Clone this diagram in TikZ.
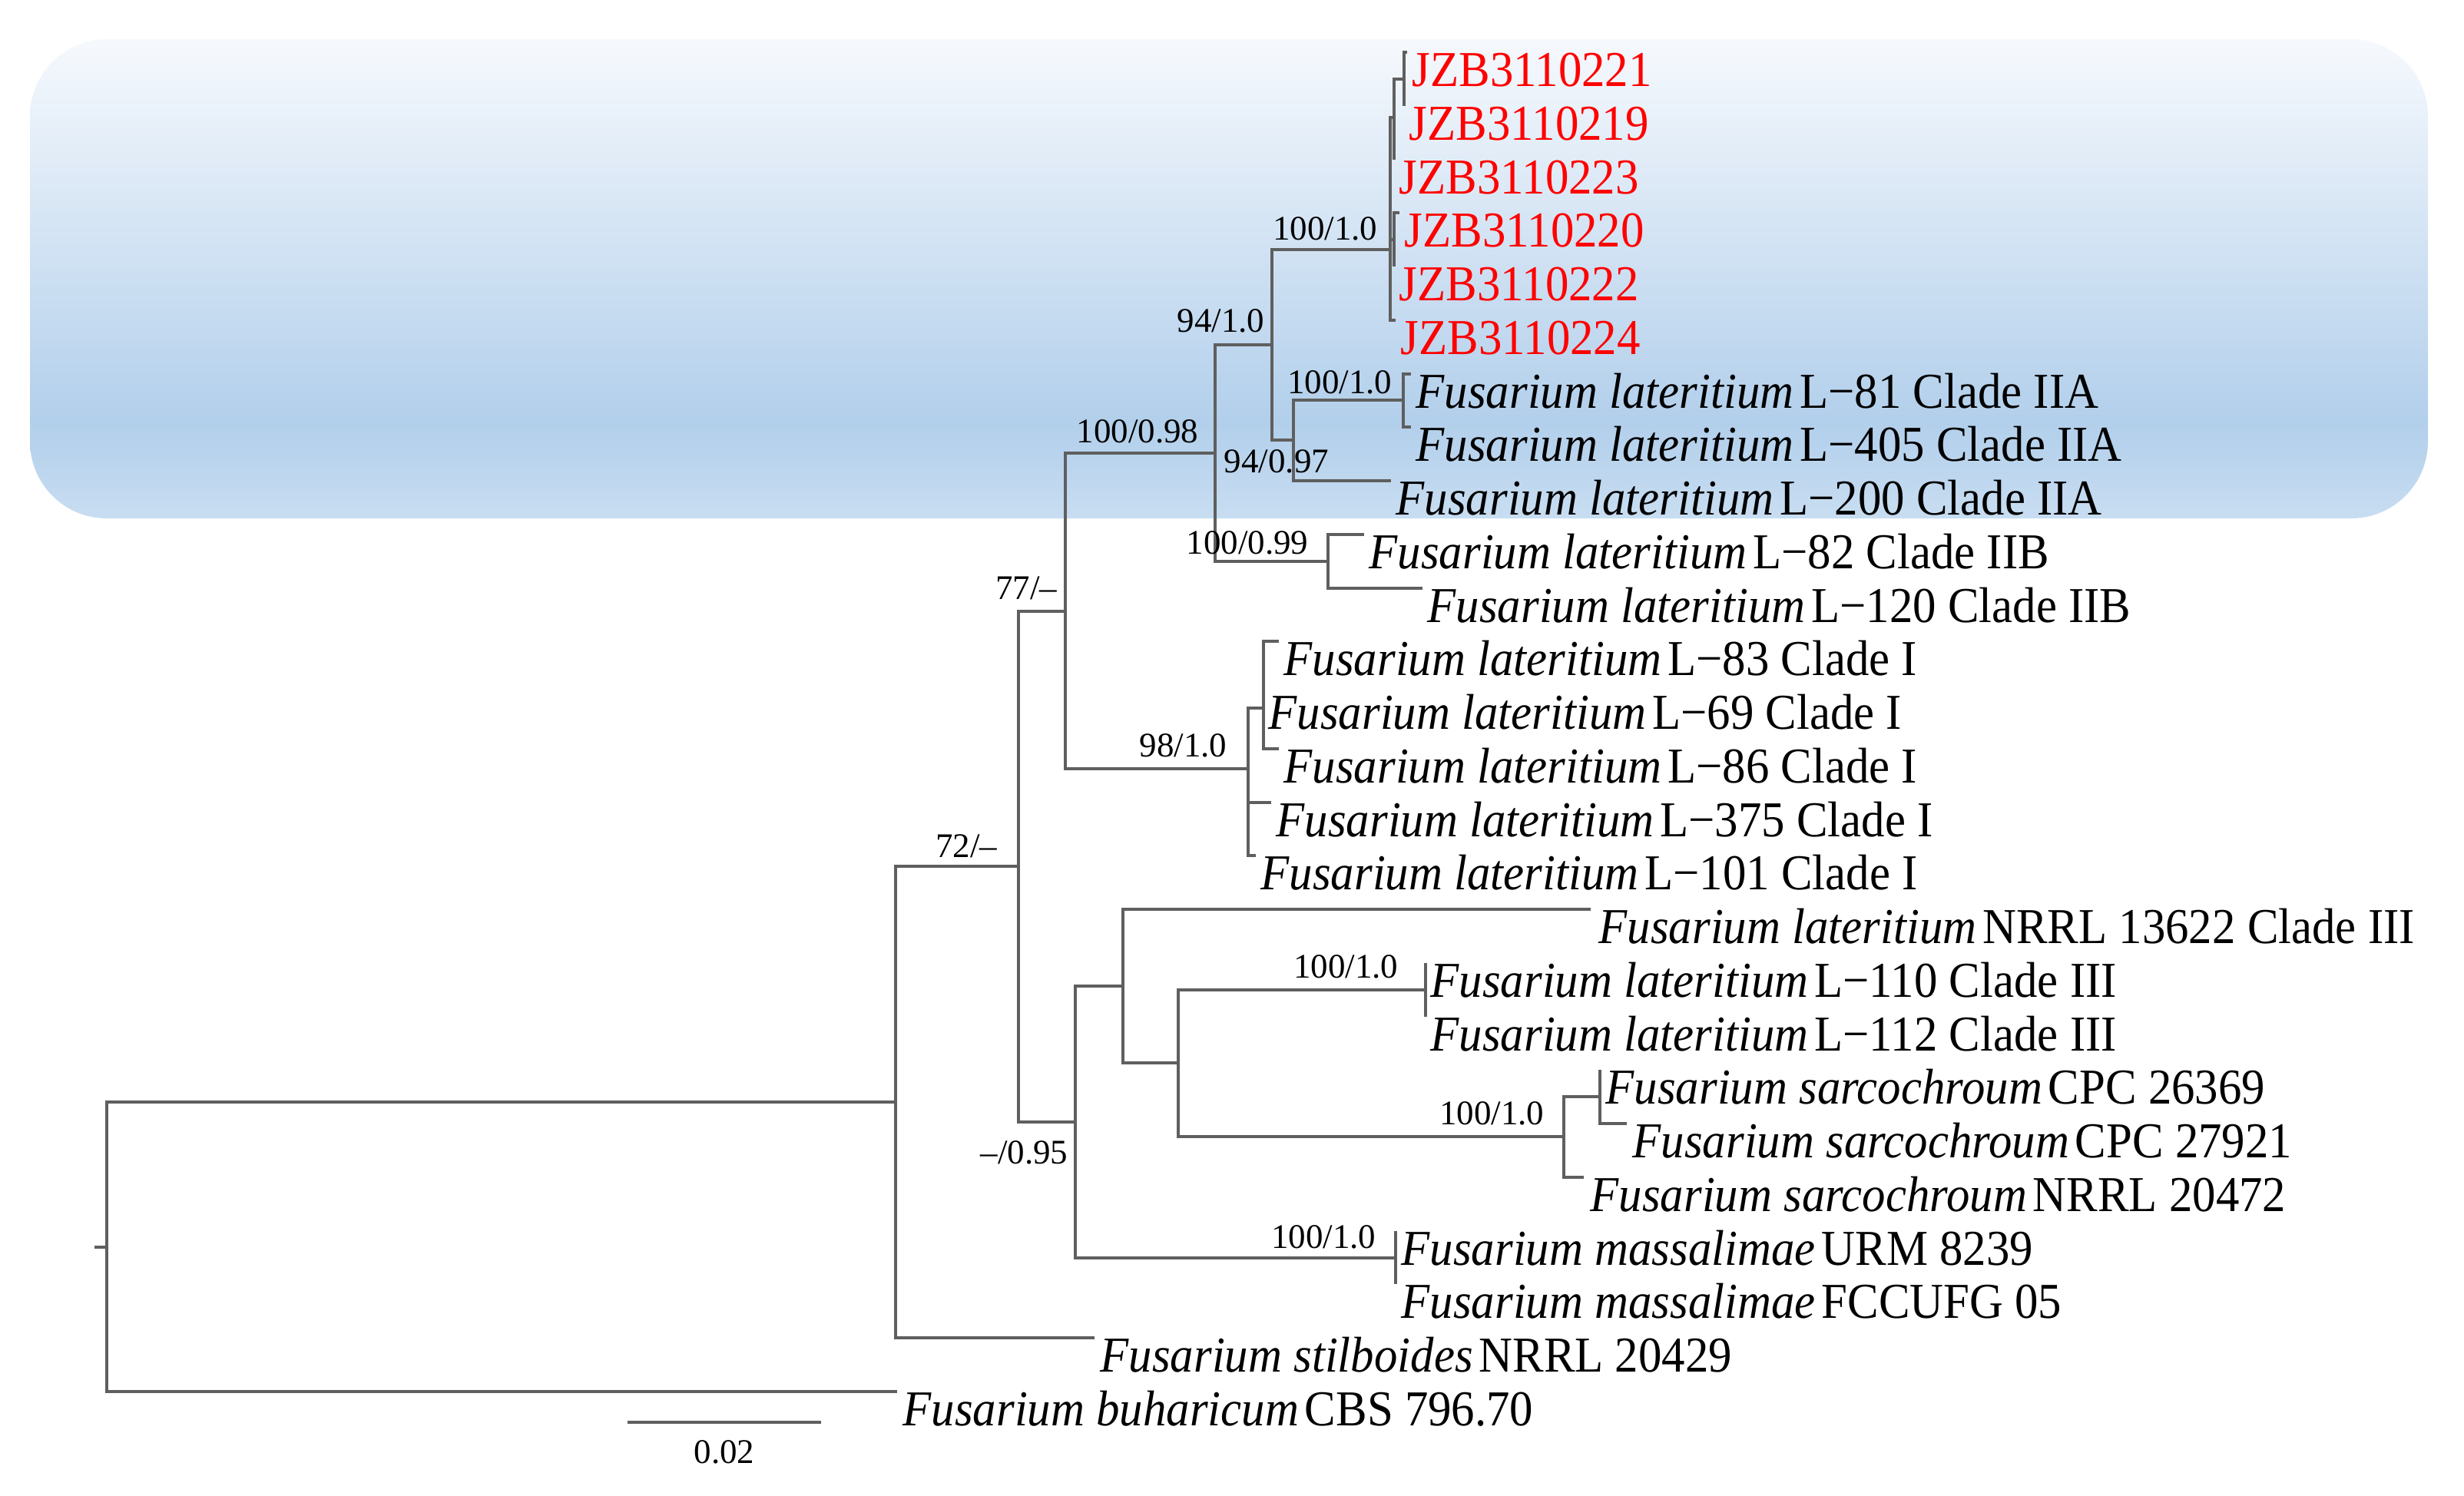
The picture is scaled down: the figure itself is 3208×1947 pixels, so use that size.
\documentclass[tikz,border=0pt]{standalone}
\usepackage{fontspec}
\setmainfont{Liberation Serif}
\newfontfamily\taxfont{Liberation Serif}[FakeStretch=0.93]
\definecolor{jzbred}{RGB}{255,0,0}
\definecolor{treegray}{RGB}{95,95,95}
\definecolor{cladetop}{RGB}{246,249,253}
\definecolor{cladedark}{RGB}{178,207,235}
\definecolor{cladebot}{RGB}{200,221,241}
\pgfdeclareverticalshading{cladeshade}{100bp}{color(0bp)=(cladebot); color(25bp)=(cladebot); color(35bp)=(cladedark); color(75bp)=(cladetop); color(100bp)=(cladetop)}
\newcommand{\fus}[2]{\textit{Fusarium #1}\hspace{0.12em}#2}

\begin{document}
\begin{tikzpicture}[x=0.01cm, y=-0.01cm]
\tikzstyle{branch}=[draw=treegray, line width=0.9pt]
\tikzstyle{taxon}=[anchor=base west, inner sep=0pt, font=\taxfont\fontsize{18.6}{21}\selectfont]
\tikzstyle{strain}=[taxon, text=jzbred]
\tikzstyle{support}=[anchor=base east, inner sep=0pt, font=\fontsize{12.8}{15}\selectfont]

\useasboundingbox (0,0) rectangle (3208,1947);

% Highlighted clade
\shade[shading=cladeshade, rounded corners=1cm] (39,51) rectangle (3161,675);

% Internal nodes
\coordinate (rootend) at (123,1624);
\coordinate (root) at (139,1624);
\coordinate (nA) at (1166,1435);
\coordinate (nB) at (1326,1128);
\coordinate (nC) at (1387,796);
\coordinate (nE) at (1582,590);
\coordinate (nF) at (1656,449);
\coordinate (nG) at (1810,325);
\coordinate (nGa) at (1815,153);
\coordinate (nGb) at (1828,103);
\coordinate (nGc) at (1815,312);
\coordinate (nH) at (1684,573);
\coordinate (nI) at (1827,521);
\coordinate (nM) at (1729,731);
\coordinate (nJ) at (1625,1001);
\coordinate (nK) at (1645,922);
\coordinate (nD) at (1400,1461);
\coordinate (nN) at (1462,1284);
\coordinate (nQ) at (1534,1384);
\coordinate (nS) at (1856,1289);
\coordinate (nR) at (2036,1480);
\coordinate (nRa) at (2083,1428);
\coordinate (nP) at (1817,1638);

% Tips
\coordinate (t221) at (1832,68);
\coordinate (t219) at (1828,138);
\coordinate (t223) at (1815,208);
\coordinate (t220) at (1822,277);
\coordinate (t222) at (1815,347);
\coordinate (t224) at (1817,417);
\coordinate (tL81) at (1837,487);
\coordinate (tL405) at (1837,556);
\coordinate (tL200) at (1811,626);
\coordinate (tL82) at (1776,696);
\coordinate (tL120) at (1852,766);
\coordinate (tL83) at (1665,835);
\coordinate (tL69) at (1645,905);
\coordinate (tL86) at (1665,975);
\coordinate (tL375) at (1655,1045);
\coordinate (tL101) at (1635,1114);
\coordinate (tN13622) at (2071,1184);
\coordinate (tL110) at (1856,1254);
\coordinate (tL112) at (1856,1324);
\coordinate (tC26369) at (2083,1393);
\coordinate (tC27921) at (2118,1463);
\coordinate (tN20472) at (2062,1533);
\coordinate (tU8239) at (1817,1603);
\coordinate (tF05) at (1817,1672);
\coordinate (tN20429) at (1425,1742);
\coordinate (tC79670) at (1168,1812);

% Branches
\draw[branch] (rootend) -- (root);
\draw[branch] (root) |- (nA) (root) |- (tC79670);
\draw[branch] (nA) |- (nB) (nA) |- (tN20429);
\draw[branch] (nB) |- (nC) (nB) |- (nD);
\draw[branch] (nC) |- (nE) (nC) |- (nJ);
\draw[branch] (nE) |- (nF) (nE) |- (nM);
\draw[branch] (nF) |- (nG) (nF) |- (nH);
\draw[branch] (nG) |- (nGa) (nG) |- (nGc) (nG) |- (t224);
\draw[branch] (nGa) |- (nGb) (nGa) |- (t223);
\draw[branch] (nGb) |- (t221) (nGb) |- (t219);
\draw[branch] (nGc) |- (t220) (nGc) |- (t222);
\draw[branch] (nH) |- (nI) (nH) |- (tL200);
\draw[branch] (nI) |- (tL81) (nI) |- (tL405);
\draw[branch] (nM) |- (tL82) (nM) |- (tL120);
\draw[branch] (nJ) |- (nK) (nJ) |- (tL375) (nJ) |- (tL101);
\draw[branch] (nK) |- (tL83) (nK) |- (tL69) (nK) |- (tL86);
\draw[branch] (nD) |- (nN) (nD) |- (nP);
\draw[branch] (nN) |- (tN13622) (nN) |- (nQ);
\draw[branch] (nQ) |- (nS) (nQ) |- (nR);
\draw[branch] (nS) |- (tL110) (nS) |- (tL112);
\draw[branch] (nR) |- (nRa) (nR) |- (tN20472);
\draw[branch] (nRa) |- (tC26369) (nRa) |- (tC27921);
\draw[branch] (nP) |- (tU8239) (nP) |- (tF05);

% Taxon labels
\node[strain] (l221) at ([shift={(6,44)}]t221) {JZB3110221};
\node[strain] (l219) at ([shift={(6,44)}]t219) {JZB3110219};
\node[strain] (l223) at ([shift={(6,44)}]t223) {JZB3110223};
\node[strain] (l220) at ([shift={(6,44)}]t220) {JZB3110220};
\node[strain] (l222) at ([shift={(6,44)}]t222) {JZB3110222};
\node[strain] (l224) at ([shift={(6,44)}]t224) {JZB3110224};
\node[taxon] (lL81) at ([shift={(6,44)}]tL81) {\fus{lateritium}{L−81 Clade IIA}};
\node[taxon] (lL405) at ([shift={(6,44)}]tL405) {\fus{lateritium}{L−405 Clade IIA}};
\node[taxon] (lL200) at ([shift={(6,44)}]tL200) {\fus{lateritium}{L−200 Clade IIA}};
\node[taxon] (lL82) at ([shift={(6,44)}]tL82) {\fus{lateritium}{L−82 Clade IIB}};
\node[taxon] (lL120) at ([shift={(6,44)}]tL120) {\fus{lateritium}{L−120 Clade IIB}};
\node[taxon] (lL83) at ([shift={(6,44)}]tL83) {\fus{lateritium}{L−83 Clade I}};
\node[taxon] (lL69) at ([shift={(6,44)}]tL69) {\fus{lateritium}{L−69 Clade I}};
\node[taxon] (lL86) at ([shift={(6,44)}]tL86) {\fus{lateritium}{L−86 Clade I}};
\node[taxon] (lL375) at ([shift={(6,44)}]tL375) {\fus{lateritium}{L−375 Clade I}};
\node[taxon] (lL101) at ([shift={(6,44)}]tL101) {\fus{lateritium}{L−101 Clade I}};
\node[taxon] (lN13622) at ([shift={(10,44)}]tN13622) {\fus{lateritium}{NRRL 13622 Clade III}};
\node[taxon] (lL110) at ([shift={(6,44)}]tL110) {\fus{lateritium}{L−110 Clade III}};
\node[taxon] (lL112) at ([shift={(6,44)}]tL112) {\fus{lateritium}{L−112 Clade III}};
\node[taxon] (lC26369) at ([shift={(7,44)}]tC26369) {\fus{sarcochroum}{CPC 26369}};
\node[taxon] (lC27921) at ([shift={(7,44)}]tC27921) {\fus{sarcochroum}{CPC 27921}};
\node[taxon] (lN20472) at ([shift={(8,44)}]tN20472) {\fus{sarcochroum}{NRRL 20472}};
\node[taxon] (lU8239) at ([shift={(7,44)}]tU8239) {\fus{massalimae}{URM 8239}};
\node[taxon] (lF05) at ([shift={(7,44)}]tF05) {\fus{massalimae}{FCCUFG 05}};
\node[taxon] (lN20429) at ([shift={(7,44)}]tN20429) {\fus{stilboides}{NRRL 20429}};
\node[taxon] (lC79670) at ([shift={(7,44)}]tC79670) {\fus{buharicum}{CBS 796.70}};

% Support values
\node[support] (sG) at ([shift={(-16,-13)}]nG) {100/1.0};
\node[support] (sF) at ([shift={(-9,-17)}]nF) {94/1.0};
\node[support] (sE) at ([shift={(-21,-14)}]nE) {100/0.98};
\node[support] (sI) at ([shift={(-14,-9)}]nI) {100/1.0};
\node[support, anchor=base] (sH) at ([shift={(-22,42)}]nH) {94/0.97};
\node[support] (sM) at ([shift={(-25,-10)}]nM) {100/0.99};
\node[support] (sC) at ([shift={(-10,-16)}]nC) {77/–};
\node[support] (sJ) at ([shift={(-27,-16)}]nJ) {98/1.0};
\node[support] (sB) at ([shift={(-27,-12)}]nB) {72/–};
\node[support] (sD) at ([shift={(-9,54)}]nD) {–/0.95};
\node[support] (sS) at ([shift={(-35,-16)}]nS) {100/1.0};
\node[support] (sR) at ([shift={(-25,-16)}]nR) {100/1.0};
\node[support] (sP) at ([shift={(-25,-13)}]nP) {100/1.0};

% Scale bar
\coordinate (sbL) at (817,1852);
\coordinate (sbR) at (1069,1852);
\draw[branch] (sbL) -- (sbR);
\node[support, anchor=base] (sbV) at ([shift={(126,53)}]sbL) {0.02};
\end{tikzpicture}
\end{document}
